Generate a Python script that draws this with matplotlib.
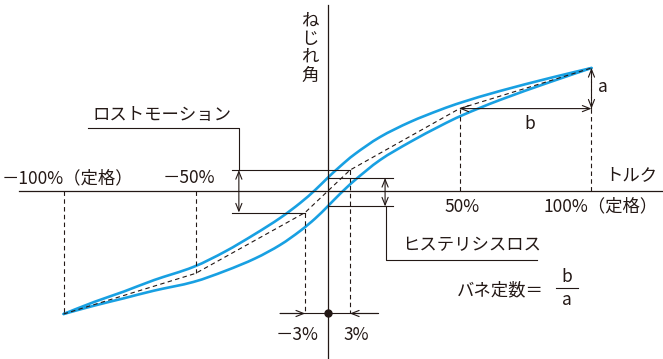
import numpy as np
import matplotlib
matplotlib.use("Agg")
import matplotlib.pyplot as plt
from matplotlib.path import Path
from matplotlib.patches import PathPatch

plt.rcParams['font.family'] = ['Noto Sans CJK JP', 'DejaVu Sans']

# ---- data (torque in % of rated, torsion angle in % of rated angle) ----
torque_ticks = [-100, -50, 50, 100]
tick_labels = ['－100%（定格）', '－50%', '50%', '100%（定格）']

# schematic position of the ±3% loss-motion torque (drawn exaggerated)
lm_pos = 8.5
lm_labels = ['－3%', '3%']

# mean characteristic (dashed)
mean_x = [-100, -50, -lm_pos, lm_pos, 50, 100]
mean_y = [-100, -67, -17.5, 17, 67, 100]

# hysteresis loop: loading branch (upper) and unloading branch (lower)
upper_x = [-100, -88.4, -77.1, -65.7, -50.9, -38.8, -27.5, -18.0, -10.4, -4.7,
           0.0, 4.7, 10.4, 19.9, 31.25, 42.6, 51.3, 65.3, 84.3, 100]
upper_y = [-100, -90.2, -81.7, -72.4, -61.8, -49.2, -35.0, -22.0, -9.8, 0.8,
           10.6, 19.9, 30.1, 43.9, 56.1, 65.9, 72.4, 81.3, 91.9, 100]
lower_x = [-100, -88.4, -77.1, -65.7, -50.9, -38.8, -27.5, -18.0, -10.4, -4.7,
           0.0, 4.7, 10.4, 19.9, 31.25, 42.6, 51.3, 65.3, 84.3, 100]
lower_y = [-100, -93.2, -87.2, -81.0, -74.0, -65.0, -54.9, -43.9, -32.5, -22.4,
           -12.6, -2.4, 8.9, 25.2, 39.8, 52.8, 61.8, 74.0, 88.6, 100]

INK = '#231815'
BLUE = '#18a0e2'
FS = 12.5
DASH = (0, (4, 3))

fig = plt.figure(figsize=(6.63, 3.59), dpi=100)
ax = fig.add_axes([0, 0, 1, 1])
ax.set_xlim(-124.1, 127.1)
ax.set_ylim(-136.6, 155.3)
ax.axis('off')

HEAD = 'head_length=0.55,head_width=0.22'


def dim_arrow(p0, p1, style='<->'):
    ax.annotate('', xy=p1, xytext=p0,
                arrowprops=dict(arrowstyle=f'{style},{HEAD}',
                                color=INK, lw=0.8, shrinkA=0, shrinkB=0))


def smooth_curve(xs, ys, **kw):
    """Draw a smooth Bezier path passing through the given points."""
    pts = np.column_stack([xs, ys]).astype(float)
    verts = [pts[0]]
    codes = [Path.MOVETO]
    n = len(pts)
    for i in range(n - 1):
        p0 = pts[i - 1] if i > 0 else pts[i]
        p1 = pts[i]
        p2 = pts[i + 1]
        p3 = pts[i + 2] if i + 2 < n else pts[i + 1]
        verts += [p1 + (p2 - p0) / 6.0, p2 - (p3 - p1) / 6.0, p2]
        codes += [Path.CURVE4] * 3
    ax.add_patch(PathPatch(Path(verts, codes), fill=False, **kw))


# axes
ax.plot([0, 0], [151.2, -136.6], color=INK, lw=0.9)
ax.plot([-116.9, 127.1], [0, 0], color=INK, lw=0.9)
for ch, yy in zip('ねじれ角', [138.2, 123.6, 109.0, 93.5]):
    ax.text(-6.6, yy, ch, fontsize=FS, color=INK, ha='center', va='center')
ax.text(115, 13.0, 'トルク', fontsize=FS, color=INK, ha='center', va='center')

# torque tick labels
tick_text_pos = {-100: (-98.7, 10.6), -50: (-52.5, 10.6),
                 50: (50.8, -12.8), 100: (103.6, -12.8)}
for t, lab in zip(torque_ticks, tick_labels):
    tx, ty = tick_text_pos[t]
    ax.text(tx, ty, lab, fontsize=FS, color=INK, ha='center', va='center')

# dashed drop lines from the mean curve to the torque axis
mx = np.array(mean_x, float)
my = np.array(mean_y, float)
for t in torque_ticks:
    yv = np.interp(t, mx, my)
    ax.plot([t, t], [0, yv], color=INK, lw=0.8, linestyle=DASH)

# hysteresis loop and mean line
smooth_curve(upper_x, upper_y, edgecolor=BLUE, lw=1.9, capstyle='round', joinstyle='round')
smooth_curve(lower_x, lower_y, edgecolor=BLUE, lw=1.9, capstyle='round', joinstyle='round')
ax.plot(mean_x, mean_y, color=INK, lw=0.8, linestyle=DASH)

# spring constant: a (angle) and b (torque) between 50% and 100%
y50 = np.interp(50, mx, my)
y100 = np.interp(100, mx, my)
dim_arrow((50, y50), (100, y50))
ax.plot([100, 100], [y50, y100], color=INK, lw=0.8, linestyle=DASH)
dim_arrow((100, y100 - 5), (100, y100), style='->')
dim_arrow((100, y50 + 5), (100, y50), style='->')
ax.text(76.7, 54.5, 'b', fontsize=FS, color=INK, ha='center', va='center')
ax.text(104.5, 84.8, 'a', fontsize=FS, color=INK, ha='center', va='center')

# loss motion (±3% torque)
y_lm_top = np.interp(lm_pos, mx, my)
y_lm_bot = np.interp(-lm_pos, mx, my)
ax.plot([-36.2, lm_pos], [y_lm_top, y_lm_top], color=INK, lw=0.8)
ax.plot([-36.2, -lm_pos], [y_lm_bot, y_lm_bot], color=INK, lw=0.8)
dim_arrow((-33.6, y_lm_bot), (-33.6, y_lm_top))
ax.plot([-33.6, -33.6, -90.7], [y_lm_top, 51.2, 51.2], color=INK, lw=0.8)
ax.text(-89.2, 61.6, 'ロストモーション', fontsize=FS, color=INK, ha='left', va='center')

y_base = -99.6
ax.plot([-lm_pos, -lm_pos], [y_lm_bot, y_base], color=INK, lw=0.8, linestyle=DASH)
ax.plot([lm_pos, lm_pos], [y_lm_top, y_base], color=INK, lw=0.8, linestyle=DASH)
ax.plot([-18.0, 19.1], [y_base, y_base], color=INK, lw=0.8)
dim_arrow((-18.0, y_base), (-lm_pos, y_base), style='->')
dim_arrow((19.1, y_base), (lm_pos, y_base), style='->')
ax.plot([0], [y_base], 'o', color=INK, ms=5)
ax.text(-11.6, -117.1, lm_labels[0], fontsize=FS, color=INK, ha='center', va='center')
ax.text(11.0, -117.1, lm_labels[1], fontsize=FS, color=INK, ha='center', va='center')

# hysteresis loss at zero torque
h_top = np.interp(0, upper_x, upper_y)
h_bot = np.interp(0, lower_x, lower_y)
ax.plot([0, 24.8], [h_top, h_top], color=INK, lw=0.8)
ax.plot([0, 24.8], [h_bot, h_bot], color=INK, lw=0.8)
dim_arrow((21.8, h_bot), (21.8, h_top))
ax.plot([22.3, 22.3, 79.4], [h_bot, -56.5, -56.5], color=INK, lw=0.8)
ax.text(28.1, -44.3, 'ヒステリシスロス', fontsize=FS, color=INK, ha='left', va='center')

# spring constant formula
ax.text(48.9, -80.5, 'バネ定数＝', fontsize=FS, color=INK, ha='left', va='center')
ax.plot([86.6, 94.9], [-79.1, -79.1], color=INK, lw=0.8)
ax.text(90.6, -69.7, 'b', fontsize=FS, color=INK, ha='center', va='center')
ax.text(90.6, -88.6, 'a', fontsize=FS, color=INK, ha='center', va='center')

fig.savefig('out.png', dpi=100, facecolor='white')
